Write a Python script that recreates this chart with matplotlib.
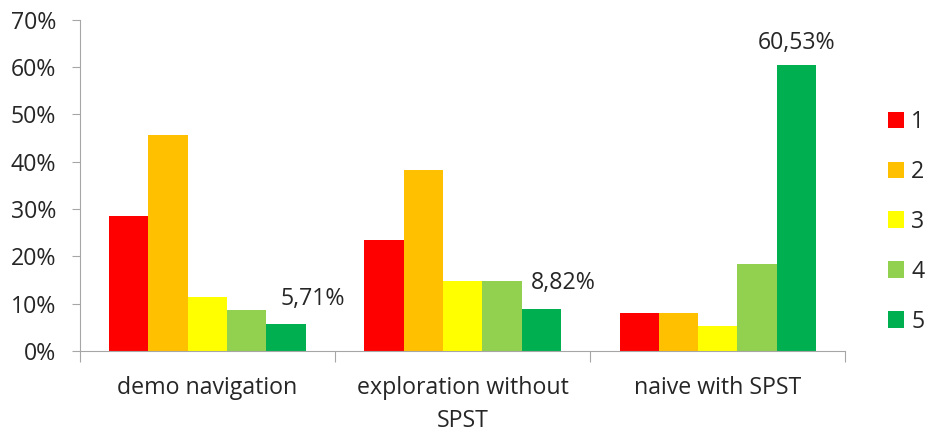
import matplotlib.pyplot as plt
import numpy as np

# categories and series (percent)
groups = ["demo navigation", "exploration without\nSPST", "naive with SPST"]
series = ["1", "2", "3", "4", "5"]
vals_1 = [28.57, 23.53, 7.89]
vals_2 = [45.71, 38.24, 7.89]
vals_3 = [11.43, 14.71, 5.26]
vals_4 = [8.57, 14.71, 18.42]
vals_5 = [5.71, 8.82, 60.53]
labels_5 = ["5,71%", "8,82%", "60,53%"]

colors = ["#FF0000", "#FFC000", "#FFFF00", "#92D050", "#00B050"]
axis_col = "#A6A6A6"
text_col = "#262626"
fs = 16.7

plt.rcParams['font.family'] = ['Open Sans', 'DejaVu Sans']

fig = plt.figure(figsize=(9.28, 4.32), dpi=100)
ax = fig.add_axes([0.086, 0.188, 0.825, 0.766])

x = np.arange(len(groups))
w = 0.154
all_vals = [vals_1, vals_2, vals_3, vals_4, vals_5]
for i, v in enumerate(all_vals):
    ax.bar(x + (i - 2) * w, v, width=w, color=colors[i], label=series[i])

# data labels on series 5
offs = [(19.5, 9), (16, 10), (0, 7)]
for j in range(len(groups)):
    ax.annotate(labels_5[j], (x[j] + 2 * w, vals_5[j]), xytext=offs[j],
                textcoords='offset points', ha='center', va='bottom',
                fontsize=fs, color=text_col)

ax.set_xlim(-0.5, 2.5)
ax.set_ylim(0, 70)
ax.set_yticks(range(0, 71, 10))
ax.set_yticklabels([f"{t}%" for t in range(0, 71, 10)], fontsize=fs, color=text_col)
ax.set_xticks([-0.5, 0.5, 1.5, 2.5])
ax.set_xticklabels([])
ax.set_xticks(x, minor=True)
ax.set_xticklabels(groups, minor=True, fontsize=fs, color=text_col,
                   linespacing=1.5, multialignment='center')
ax.tick_params(axis='x', which='minor', length=0, pad=18)
ax.tick_params(axis='x', which='major', length=8, color=axis_col)
ax.tick_params(axis='y', length=6, color=axis_col, pad=11)

for s in ['top', 'right']:
    ax.spines[s].set_visible(False)
for s in ['left', 'bottom']:
    ax.spines[s].set_color(axis_col)

leg = ax.legend(loc='center left', bbox_to_anchor=(1.0345, 0.39), frameon=False,
                fontsize=fs, handlelength=0.7, handleheight=0.7,
                labelspacing=1.12, handletextpad=0.3, borderpad=0.2)
for t in leg.get_texts():
    t.set_color(text_col)

fig.savefig("out.png", dpi=100)
